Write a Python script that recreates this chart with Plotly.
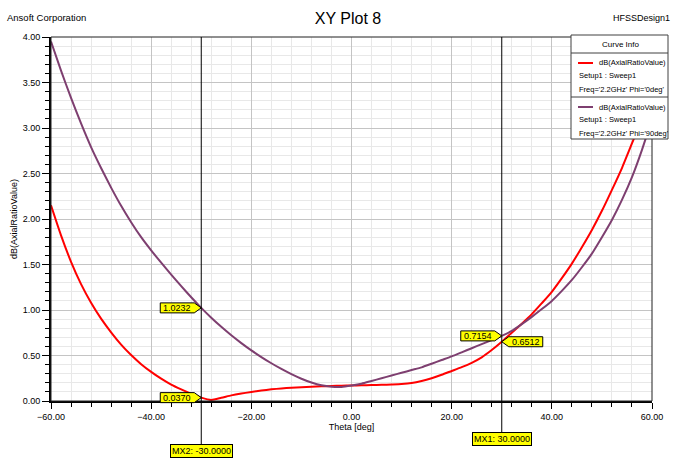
import plotly.graph_objects as go

# ---------------- data ----------------
theta = list(range(-60, 61, 2))
ar_phi0 = [2.15, 1.82, 1.53, 1.285, 1.08, 0.905, 0.755, 0.62, 0.505, 0.405,
           0.32, 0.245, 0.18, 0.127, 0.078, 0.037, 0.012, 0.035, 0.062, 0.083,
           0.10, 0.115, 0.128, 0.138, 0.146, 0.152, 0.157, 0.161, 0.165, 0.168,
           0.170, 0.172, 0.175, 0.178, 0.182, 0.187, 0.198, 0.22, 0.25, 0.288,
           0.33, 0.372, 0.42, 0.48, 0.56, 0.6512, 0.75, 0.85, 0.955, 1.075,
           1.20, 1.35, 1.51, 1.69, 1.88, 2.09, 2.32, 2.56, 2.83, 3.10, 3.38]
ar_phi90 = [3.95, 3.63, 3.33, 3.05, 2.79, 2.56, 2.345, 2.145, 1.965, 1.80,
            1.655, 1.52, 1.389, 1.262, 1.14, 1.0232, 0.915, 0.815, 0.722, 0.636,
            0.556, 0.483, 0.415, 0.352, 0.295, 0.245, 0.203, 0.172, 0.157, 0.155,
            0.17, 0.19, 0.22, 0.25, 0.28, 0.31, 0.34, 0.37, 0.41, 0.45,
            0.49, 0.535, 0.58, 0.625, 0.67, 0.7154, 0.77, 0.845, 0.925, 1.01,
            1.10, 1.21, 1.33, 1.47, 1.62, 1.80, 1.99, 2.21, 2.46, 2.76, 3.10]
series_names = ["dB(AxialRatioValue)", "dB(AxialRatioValue)"]
series_setup = ["Setup1 : Sweep1", "Setup1 : Sweep1"]
series_freq = ["Freq='2.2GHz' Phi='0deg'", "Freq='2.2GHz' Phi='90deg'"]
marker_names = ["MX1", "MX2"]
marker_theta = [30, -30]
x_ticks = [-60, -40, -20, 0, 20, 40, 60]
y_ticks = [0, 0.5, 1.0, 1.5, 2.0, 2.5, 3.0, 3.5, 4.0]

# ---------------- style ----------------
RED = "#ff0000"
PURPLE = "#7e3f70"
FONT = "Liberation Sans, Arial, sans-serif"
X_RANGE = [-60, 60]
Y_RANGE = [0, 4]
W, H = 675, 460
ML, MR, MT, MB = 51, 23, 37, 59
PW, PH = W - ML - MR, H - MT - MB


def px2paper_x(px):
    return (px - ML) / PW


def py2paper_y(py):
    return (H - MB - py) / PH


def val2paper_y(v):
    return (v - Y_RANGE[0]) / (Y_RANGE[1] - Y_RANGE[0])


fig = go.Figure()
fig.add_trace(go.Scatter(x=theta, y=ar_phi0, mode="lines",
                         line=dict(color=RED, width=2, shape="spline", smoothing=0.6),
                         showlegend=False))
fig.add_trace(go.Scatter(x=theta, y=ar_phi90, mode="lines",
                         line=dict(color=PURPLE, width=2, shape="spline", smoothing=0.6),
                         showlegend=False))

shapes = []
annotations = []

# plot frame
shapes.append(dict(type="rect", xref="paper", yref="paper", x0=0, x1=1, y0=0, y1=1,
                   line=dict(color="#202020", width=1), layer="above"))

# marker cursors, labels and value tags
label_py = {"MX1": 439, "MX2": 451}
tag_side = {"MX1": ["right", "left"], "MX2": ["left", "left"]}
for name, th in zip(marker_names, marker_theta):
    i = theta.index(th)
    ly = py2paper_y(label_py[name])
    shapes.append(dict(type="line", xref="x", yref="paper", x0=th, x1=th,
                       y0=1, y1=ly, line=dict(color="black", width=1), layer="above"))
    annotations.append(dict(x=th, y=ly, xref="x", yref="paper", showarrow=False,
                            text=f"{name}: {th:.4f}", bgcolor="#ffff00",
                            bordercolor="black", borderwidth=1, borderpad=1,
                            font=dict(size=9, color="black", family=FONT),
                            xanchor="center", yanchor="middle"))
    for vals, side in zip([ar_phi0, ar_phi90], tag_side[name]):
        v = vals[i]
        yp = val2paper_y(v)
        w, h, t = 41, 10, 7
        s = -1 if side == "left" else 1
        path = (f"M0,0 L{s*t},{h/2} L{s*w},{h/2} L{s*w},{-h/2} "
                f"L{s*t},{-h/2} Z")
        shapes.append(dict(type="path", xref="x", yref="paper",
                           xsizemode="pixel", ysizemode="pixel",
                           xanchor=th, yanchor=yp, path=path,
                           fillcolor="#ffff00", line=dict(color="black", width=1),
                           layer="above"))
        annotations.append(dict(x=th, y=yp, xref="x", yref="paper", showarrow=False,
                                text=f"{v:.4f}", xshift=s * (w + t) / 2,
                                font=dict(size=9, color="black", family=FONT),
                                xanchor="center", yanchor="middle"))

# legend box ("Curve Info")
bx0, bx1, by0, by1 = px2paper_x(571), px2paper_x(668), py2paper_y(139), py2paper_y(35)
shapes.append(dict(type="rect", xref="paper", yref="paper", x0=bx0, x1=bx1, y0=by0, y1=by1,
                   fillcolor="white", line=dict(color="#404040", width=1), layer="above"))
for sy in [53, 97]:
    shapes.append(dict(type="line", xref="paper", yref="paper", x0=bx0, x1=bx1,
                       y0=py2paper_y(sy), y1=py2paper_y(sy),
                       line=dict(color="#404040", width=1), layer="above"))
annotations.append(dict(x=px2paper_x(620), y=py2paper_y(44), xref="paper", yref="paper",
                        text="Curve Info", showarrow=False, xanchor="center",
                        yanchor="middle", font=dict(size=8, color="black", family=FONT)))
for k, (col, nm, su, fq) in enumerate(zip([RED, PURPLE], series_names,
                                          series_setup, series_freq)):
    base = 63 + k * 44
    shapes.append(dict(type="line", xref="paper", yref="paper",
                       x0=px2paper_x(578), x1=px2paper_x(593),
                       y0=py2paper_y(base), y1=py2paper_y(base),
                       line=dict(color=col, width=2), layer="above"))
    for txt, xx, yy in [(nm, 597, base), (su, 577, base + 13), (fq, 577, base + 26)]:
        annotations.append(dict(x=px2paper_x(xx), y=py2paper_y(yy), xref="paper",
                                yref="paper", text=txt, showarrow=False,
                                xanchor="left", yanchor="middle",
                                font=dict(size=7.5, color="black", family=FONT)))

# header texts
annotations.append(dict(x=px2paper_x(5), y=py2paper_y(18), xref="paper", yref="paper",
                        text="Ansoft Corporation", showarrow=False, xanchor="left",
                        yanchor="middle", font=dict(size=9.5, color="black", family=FONT)))
annotations.append(dict(x=px2paper_x(672), y=py2paper_y(18), xref="paper", yref="paper",
                        text="HFSSDesign1", showarrow=False, xanchor="right",
                        yanchor="middle", font=dict(size=9, color="black", family=FONT)))

fig.update_layout(
    width=W, height=H,
    margin=dict(l=ML, r=MR, t=MT, b=MB, pad=0),
    paper_bgcolor="white", plot_bgcolor="white",
    font=dict(family=FONT, size=9, color="black"),
    title=dict(text="XY Plot 8", x=348 / W, xref="container", xanchor="center",
               y=1 - 18 / H, yref="container", yanchor="middle",
               font=dict(size=16, color="black", family=FONT)),
    shapes=shapes, annotations=annotations,
    showlegend=False,
)
fig.update_xaxes(
    range=X_RANGE, tickvals=x_ticks, tickformat=".2f",
    showline=True, linecolor="black", linewidth=2, mirror=False,
    ticks="outside", ticklen=6, tickcolor="black", tickwidth=1,
    showgrid=True, gridcolor="#c4c4c4", gridwidth=1, zeroline=False,
    minor=dict(dtick=4, tick0=-60, showgrid=True, gridcolor="#e8e8e8",
               ticks="outside", ticklen=4, tickcolor="black"),
    title=dict(text="Theta [deg]", standoff=2, font=dict(size=9, family=FONT)),
    tickfont=dict(size=9, family=FONT),
)
fig.update_yaxes(
    range=Y_RANGE, tickvals=y_ticks, tickformat=".2f",
    showline=True, linecolor="black", linewidth=2, mirror=False,
    ticks="outside", ticklen=7, tickcolor="black", tickwidth=1,
    showgrid=True, gridcolor="#c4c4c4", gridwidth=1, zeroline=False,
    minor=dict(dtick=0.1, tick0=0, showgrid=True, gridcolor="#e8e8e8",
               ticks="outside", ticklen=4, tickcolor="black"),
    title=dict(text="dB(AxialRatioValue)", standoff=4, font=dict(size=9, family=FONT)),
    tickfont=dict(size=9, family=FONT),
)

fig.write_html("out.html")
